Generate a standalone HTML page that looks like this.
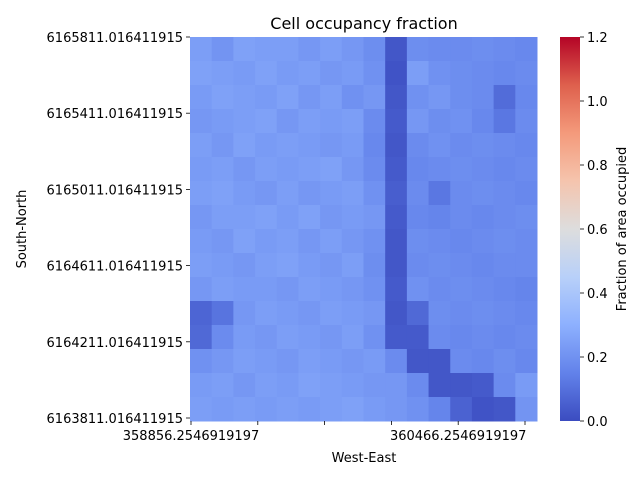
<!DOCTYPE html>
<html><head><meta charset="utf-8"><style>
body{margin:0;background:#fff;font-family:"Liberation Sans","DejaVu Sans",sans-serif;}
svg text{font-family:"DejaVu Sans","Liberation Sans",sans-serif;font-size:13px;fill:#000}
</style></head><body>
<svg id="chart" width="640" height="480" xmlns="http://www.w3.org/2000/svg">
<rect width="640" height="480" fill="#fff"/>
<g id="cells"></g>
<defs><linearGradient id="cg" x1="0" y1="1" x2="0" y2="0"></linearGradient></defs>
<rect x="560" y="37" width="20" height="384" fill="url(#cg)"/>
<g id="axes"></g>
<text x="364" y="29" text-anchor="middle" style="font-size:16px">Cell occupancy fraction</text>
<text x="364" y="462" text-anchor="middle">West-East</text>
<text x="26" y="229" text-anchor="middle" transform="rotate(-90 26 229)">South-North</text>
<text x="626" y="229" text-anchor="middle" transform="rotate(-90 626 229)">Fraction of area occupied</text>
</svg>
<script>
const rowsData = [
[.24,.21,.25,.24,.24,.22,.24,.22,.19,.03,.19,.18,.18,.19,.18,.17],
[.25,.24,.23,.25,.23,.24,.22,.23,.20,.02,.24,.20,.19,.18,.17,.18],
[.23,.25,.24,.23,.25,.22,.24,.20,.22,.03,.20,.22,.19,.18,.09,.17],
[.22,.23,.24,.25,.22,.24,.23,.24,.18,.04,.22,.19,.20,.17,.12,.18],
[.24,.22,.25,.23,.24,.23,.22,.23,.17,.03,.18,.20,.18,.19,.18,.17],
[.23,.24,.22,.24,.23,.24,.25,.22,.18,.04,.17,.18,.19,.18,.17,.18],
[.24,.25,.23,.22,.24,.22,.23,.24,.20,.05,.18,.12,.18,.19,.18,.17],
[.22,.24,.24,.25,.23,.25,.22,.23,.22,.04,.17,.16,.18,.17,.18,.19],
[.23,.22,.25,.23,.24,.22,.24,.22,.20,.03,.19,.18,.17,.18,.19,.18],
[.24,.23,.22,.24,.25,.23,.22,.24,.19,.03,.18,.19,.18,.17,.18,.18],
[.22,.24,.23,.23,.22,.24,.23,.22,.20,.04,.20,.18,.19,.18,.17,.16],
[.07,.11,.22,.24,.23,.22,.24,.23,.22,.03,.08,.19,.18,.19,.18,.17],
[.08,.18,.23,.22,.24,.23,.22,.24,.20,.04,.04,.18,.17,.18,.17,.18],
[.20,.22,.24,.23,.22,.24,.23,.22,.23,.18,.03,.03,.18,.17,.19,.17],
[.23,.24,.22,.24,.23,.25,.24,.23,.22,.22,.18,.03,.03,.04,.18,.23],
[.24,.23,.24,.23,.24,.23,.24,.25,.23,.22,.20,.16,.06,.02,.03,.21]
];
const yTickLabels = ["6165811.016411915","6165411.016411915","6165011.016411915","6164611.016411915","6164211.016411915","6163811.016411915"];
const xTickLabels = ["358856.2546919197","","","","360466.2546919197",""];
const cbTicks = [0,0.2,0.4,0.6,0.8,1.0,1.2];
const vmax = 1.2;
const X0=190,X1=537,Y0=37,Y1=421;
const stops=[[0,[59,76,192]],[0.125,[98,130,234]],[0.25,[141,176,254]],[0.375,[184,208,249]],[0.5,[221,221,221]],[0.625,[245,196,173]],[0.75,[244,154,123]],[0.875,[222,96,77]],[1,[180,4,38]]];
function cmap(t){t=Math.max(0,Math.min(1,t));for(let i=1;i<stops.length;i++){if(t<=stops[i][0]){const a=stops[i-1],b=stops[i],f=(t-a[0])/(b[0]-a[0]);return 'rgb('+a[1].map((c,k)=>Math.round(c+(b[1][k]-c)*f)).join(',')+')';}}return 'rgb(180,4,38)';}
const nR=rowsData.length,nC=rowsData[0].length;
const xs=c=>X0+(X1-X0)*c/nC, ys=r=>Y0+(Y1-Y0)*r/nR;
const NS='http://www.w3.org/2000/svg';
const g=document.getElementById('cells');
rowsData.forEach((row,r)=>row.forEach((v,c)=>{
const el=document.createElementNS(NS,'rect');
el.setAttribute('x',xs(c));el.setAttribute('y',ys(r));
el.setAttribute('width',xs(c+1)-xs(c)+0.5);el.setAttribute('height',ys(r+1)-ys(r)+0.5);
el.setAttribute('fill',cmap(v/vmax));


g.appendChild(el);}));
const lg=document.getElementById('cg');
stops.forEach(s=>{const st=document.createElementNS(NS,'stop');st.setAttribute('offset',s[0]);st.setAttribute('stop-color',cmap(s[0]));lg.appendChild(st);});
const ax=document.getElementById('axes');
function line(x1,y1,x2,y2){const l=document.createElementNS(NS,'line');l.setAttribute('x1',x1);l.setAttribute('y1',y1);l.setAttribute('x2',x2);l.setAttribute('y2',y2);l.setAttribute('stroke','#000');l.setAttribute('stroke-width','0.8');ax.appendChild(l);}
function text(x,y,s,anchor,name){const t=document.createElementNS(NS,'text');t.setAttribute('x',x);t.setAttribute('y',y);t.setAttribute('text-anchor',anchor);t.textContent=s;


ax.appendChild(t);}
yTickLabels.forEach((s,i)=>{const y=37+i*76.2;line(186,y,190,y);text(183,y+5,s,'end','y-tick-label');});
xTickLabels.forEach((s,i)=>{const x=191+i*66.8;line(x,421,x,425);if(s)text(x,440,s,'middle','x-tick-label');});
cbTicks.forEach(v=>{const y=Y1-(Y1-Y0)*v/vmax;line(580,y,584,y);text(587,y+5,v.toFixed(1),'start','colorbar-tick-label');});
</script>
</body></html>
